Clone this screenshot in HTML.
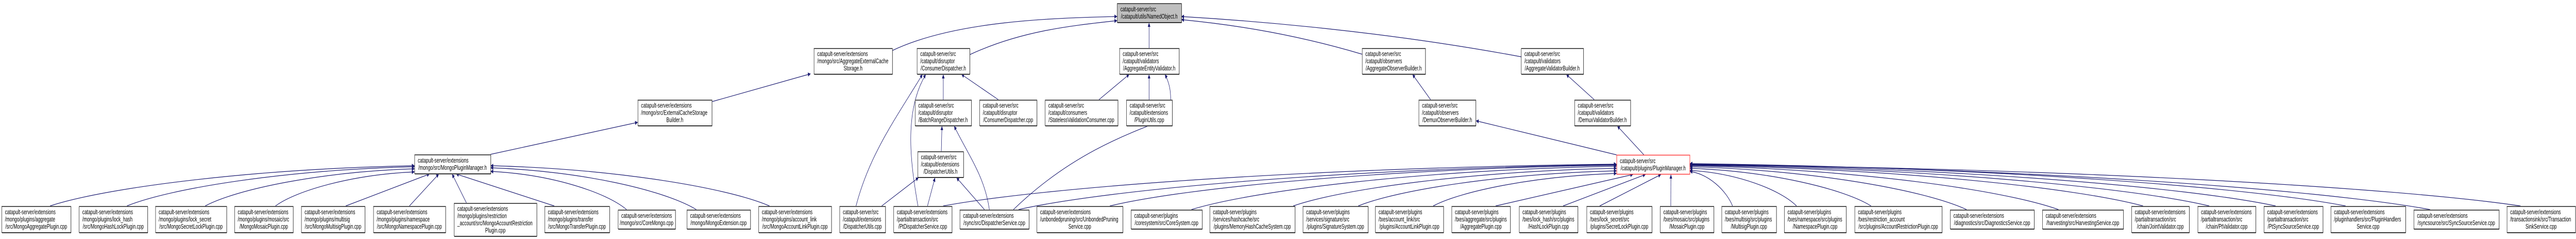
<!DOCTYPE html>
<html><head><meta charset="utf-8">
<style>
html,body{margin:0;padding:0;background:#fff;overflow:hidden;width:100%;}
svg{display:block;width:100vw;height:463px;}
text{font-family:"Liberation Sans",Arial,sans-serif;font-size:13.2px;fill:#000;}
</style></head>
<body>
<svg id="g" viewBox="0 0 7824 463" preserveAspectRatio="none" xmlns="http://www.w3.org/2000/svg">
<defs>
<marker id="ar" viewBox="0 0 10 10" refX="10" refY="5" markerWidth="11" markerHeight="8" orient="auto" markerUnits="userSpaceOnUse">
<path d="M0,0 L10,5 L0,10 z" fill="#191970"/>
</marker>
</defs>
<g id="edges" fill="none" stroke="#191970" stroke-width="1.2"></g>
<g id="nodes"></g>
</svg>
<script>
(function(){
var N={
MPM:[1259,299,231,37,["catapult-server/extensions","/mongo/src/MongoPluginManager.h"]],
PM:[4910,300,222,37,["catapult-server/src","/catapult/plugins/PluginManager.h"],"red"],
NO:[3393,6,195,37,["catapult-server/src","/catapult/utils/NamedObject.h"],"gray"],
AECS:[2472,93,238,50,["catapult-server/extensions","/mongo/src/AggregateExternalCache","Storage.h"]],
CDH:[2785,93,160,50,["catapult-server/src","/catapult/disruptor","/ConsumerDispatcher.h"]],
AEV:[3400,93,181,50,["catapult-server/src","/catapult/validators","/AggregateEntityValidator.h"]],
AOB:[4137,93,192,50,["catapult-server/src","/catapult/observers","/AggregateObserverBuilder.h"]],
AVB:[4620,93,189,50,["catapult-server/src","/catapult/validators","/AggregateValidatorBuilder.h"]],
ECSB:[1937,193,225,50,["catapult-server/extensions","/mongo/src/ExternalCacheStorage","Builder.h"]],
BRD:[2779,193,171,50,["catapult-server/src","/catapult/disruptor","/BatchRangeDispatcher.h"]],
CDC:[2975,193,174,50,["catapult-server/src","/catapult/disruptor","/ConsumerDispatcher.cpp"]],
SVC:[3174,193,221,50,["catapult-server/src","/catapult/consumers","/StatelessValidationConsumer.cpp"]],
PU:[3421,193,139,50,["catapult-server/src","/catapult/extensions","/PluginUtils.cpp"]],
DOB:[4309,193,173,50,["catapult-server/src","/catapult/observers","/DemuxObserverBuilder.h"]],
DVB:[4782,193,170,50,["catapult-server/src","/catapult/validators","/DemuxValidatorBuilder.h"]],
DUH:[2787,293,139,50,["catapult-server/src","/catapult/extensions","/DispatcherUtils.h"]],
b1:[5,399,210,51,["catapult-server/extensions","/mongo/plugins/aggregate","/src/MongoAggregatePlugin.cpp"]],
b2:[240,399,208,51,["catapult-server/extensions","/mongo/plugins/lock_hash","/src/MongoHashLockPlugin.cpp"]],
b3:[472,399,216,51,["catapult-server/extensions","/mongo/plugins/lock_secret","/src/MongoSecretLockPlugin.cpp"]],
b4:[712,399,178,51,["catapult-server/extensions","/mongo/plugins/mosaic/src","/MongoMosaicPlugin.cpp"]],
b5:[915,399,193,51,["catapult-server/extensions","/mongo/plugins/multisig","/src/MongoMultisigPlugin.cpp"]],
b6:[1134,399,219,51,["catapult-server/extensions","/mongo/plugins/namespace","/src/MongoNamespacePlugin.cpp"]],
b7:[1379,393,251,64,["catapult-server/extensions","/mongo/plugins/restriction","_account/src/MongoAccountRestriction","Plugin.cpp"]],
b8:[1654,399,197,51,["catapult-server/extensions","/mongo/plugins/transfer","/src/MongoTransferPlugin.cpp"]],
b9:[1877,406,174,37,["catapult-server/extensions","/mongo/src/CoreMongo.cpp"]],
b10:[2086,406,193,37,["catapult-server/extensions","/mongo/MongoExtension.cpp"]],
b11:[2304,399,221,51,["catapult-server/extensions","/mongo/plugins/account_link","/src/MongoAccountLinkPlugin.cpp"]],
b12:[2550,399,139,51,["catapult-server/src","/catapult/extensions","/DispatcherUtils.cpp"]],
b13:[2714,399,177,51,["catapult-server/extensions","/partialtransaction/src","/PtDispatcherService.cpp"]],
b14:[2915,406,210,37,["catapult-server/extensions","/sync/src/DispatcherService.cpp"]],
b15:[3149,399,261,51,["catapult-server/extensions","/unbondedpruning/src/UnbondedPruning","Service.cpp"]],
b16:[3435,406,216,37,["catapult-server/plugins","/coresystem/src/CoreSystem.cpp"]],
b17:[3674,399,259,51,["catapult-server/plugins","/services/hashcache/src","/plugins/MemoryHashCacheSystem.cpp"]],
b18:[3957,399,198,51,["catapult-server/plugins","/services/signature/src","/plugins/SignatureSystem.cpp"]],
b19:[4177,399,207,51,["catapult-server/plugins","/txes/account_link/src","/plugins/AccountLinkPlugin.cpp"]],
b20:[4409,399,178,51,["catapult-server/plugins","/txes/aggregate/src/plugins","/AggregatePlugin.cpp"]],
b21:[4614,399,178,51,["catapult-server/plugins","/txes/lock_hash/src/plugins","/HashLockPlugin.cpp"]],
b22:[4819,399,198,51,["catapult-server/plugins","/txes/lock_secret/src","/plugins/SecretLockPlugin.cpp"]],
b23:[5042,399,163,51,["catapult-server/plugins","/txes/mosaic/src/plugins","/MosaicPlugin.cpp"]],
b24:[5229,399,166,51,["catapult-server/plugins","/txes/multisig/src/plugins","/MultisigPlugin.cpp"]],
b25:[5419,399,188,51,["catapult-server/plugins","/txes/namespace/src/plugins","/NamespacePlugin.cpp"]],
b26:[5633,399,265,51,["catapult-server/plugins","/txes/restriction_account","/src/plugins/AccountRestrictionPlugin.cpp"]],
b27:[5923,406,255,37,["catapult-server/extensions","/diagnostics/src/DiagnosticsService.cpp"]],
b28:[6203,406,246,37,["catapult-server/extensions","/harvesting/src/HarvestingService.cpp"]],
b29:[6474,399,175,51,["catapult-server/extensions","/partialtransaction/src","/chain/JointValidator.cpp"]],
b30:[6675,399,176,51,["catapult-server/extensions","/partialtransaction/src","/chain/PtValidator.cpp"]],
b31:[6876,399,179,51,["catapult-server/extensions","/partialtransaction/src","/PtSyncSourceService.cpp"]],
b32:[7079,399,227,51,["catapult-server/extensions","/pluginhandlers/src/PluginHandlers","Service.cpp"]],
b33:[7331,406,259,37,["catapult-server/extensions","/syncsource/src/SyncSourceService.cpp"]],
b34:[7614,399,208,51,["catapult-server/extensions","/transactionsink/src/Transaction","SinkService.cpp"]]
};
var NS="http://www.w3.org/2000/svg";
function el(t,a,p){var e=document.createElementNS(NS,t);for(var k in a)e.setAttribute(k,a[k]);p.appendChild(e);return e;}
var gn=document.getElementById("nodes"),ge=document.getElementById("edges");
for(var k in N){var n=N[k],x=n[0],y=n[1],w=n[2],h=n[3],L=n[4];
 var fill=n[5]=="gray"?"#bfbfbf":"#fff",st=n[5]=="red"?"#ff3b3b":"#000";
 if(n[5]!="red"){el("line",{x1:x+1,y1:y+h+1,x2:x+w+1,y2:y+h+1,stroke:"#777","stroke-width":2},gn);
  el("line",{x1:x+w+1,y1:y+1,x2:x+w+1,y2:y+h+1,stroke:"#999","stroke-width":1},gn);}
 el("rect",{x:x+.5,y:y+.5,width:w,height:h,fill:fill,stroke:st,"stroke-width":n[5]=="red"?1.5:1},gn);
 if(n[5]!="red")el("line",{x1:x,y1:y+1,x2:x+w+1,y2:y+1,stroke:"#555","stroke-width":2},gn);
 var b0=y+(h-L.length*14)/2+11.5;
 for(var i=0;i<L.length;i++){var last=(i==L.length-1)&&L.length>1;
  var t=el("text",last?{x:x+w/2,y:b0+i*14,"text-anchor":"middle"}:{x:x+10,y:b0+i*14},gn);t.textContent=L[i];
 }
}
function P(d){el("path",{d:d,"marker-end":"url(#ar)"},ge);}
function line(a,b){P("M"+a[0]+","+a[1]+" L"+b[0]+","+b[1]);}
function curve(a,b,side){var dx=b[0]-a[0],dy=a[1]-b[1];var c1=[a[0]+dx*0.15,a[1]-dy*0.45];var c2;
 if(side=="L")c2=[b[0]-Math.abs(dx)*0.45,b[1]+dy*0.08];else if(side=="R")c2=[b[0]+Math.abs(dx)*0.45,b[1]+dy*0.08];else c2=[b[0]-dx*0.15,b[1]+dy*0.35];
 P("M"+a[0]+","+a[1]+" C"+c1[0]+","+c1[1]+" "+c2[0]+","+c2[1]+" "+b[0]+","+b[1]);}
line([1490,299],[1937,237]);
line([2162,197],[2462,143]);
P("M2710,98 C2900,40 3200,35 3393,32");
P("M2945,106 C3100,60 3250,50 3393,40");
line([3490,93],[3490,44]);
P("M4137,105 C3900,60 3700,45 3588,38");
P("M4620,110 C4200,60 3800,40 3588,32");
line([2865,193],[2865,144]);
line([3032,193],[2920,144]);
P("M2600,399 C2640,300 2720,230 2802,144");
P("M2788,399 C2770,330 2740,220 2812,144");
line([2859,293],[2861,244]);
P("M3005,406 C2990,340 2940,300 2898,244");
line([2678,399],[2790,344]);
line([2817,399],[2840,344]);
line([2990,406],[2905,344]);
line([3338,193],[3430,144]);
line([3490,193],[3490,144]);
P("M3078,406 C3250,300 3420,260 3545,230 C3560,200 3560,170 3538,144");
line([4345,193],[4290,144]);
line([4842,193],[4757,144]);
line([4910,300],[4483,234]);
line([4993,300],[4912,244]);
var mp=[["b1",1259,321,"L"],["b2",1259,323,"L"],["b3",1259,327,"L"],["b4",1259,333,"L"],["b5",1305,337,"B"],["b6",1333,337,"B"],["b7",1373,337,"B"],["b8",1385,337,"B"],["b9",1490,332,"R"],["b10",1490,325,"R"],["b11",1490,321,"R"]];
mp.forEach(function(m){var n=N[m[0]];var a=[n[0]+n[2]*0.7,n[1]];if(m[0]=="b9"||m[0]=="b10"||m[0]=="b11"||m[0]=="b8"||m[0]=="b7")a=[n[0]+n[2]*0.15,n[1]];if(m[0]=="b6")a=[n[0]+n[2]*0.5,n[1]];
 if(m[3]=="B")line(a,[m[1],m[2]]);else curve(a,[m[1],m[2]],m[3]);});
var pl=[["b13",4910,318],["b14",4910,319],["b15",4910,320],["b16",4910,322],["b17",4910,326],["b18",4910,331],["b19",4910,336]];
pl.forEach(function(m){var n=N[m[0]];var a=[n[0]+n[2]*(m[0]=="b17"?0.98:0.85),n[1]];curve(a,[m[1],m[2]],"L");});
var bt=[["b20",4960],["b21",4998],["b22",5045],["b23",5075]];
bt.forEach(function(m){var n=N[m[0]];var a=[n[0]+n[2]*0.75,n[1]];if(m[0]!="b20"&&m[0]!="b21")a=[n[0]+n[2]*0.2,n[1]];line(a,[m[1],338]);});
var pr=[["b24",5132,332],["b25",5132,330],["b26",5132,326],["b27",5132,323],["b28",5132,321],["b29",5132,320],["b30",5132,319],["b31",5132,318],["b32",5132,317],["b33",5132,318],["b34",5132,319]];
pr.forEach(function(m){var n=N[m[0]];var a=[n[0]+Math.min(n[2]*0.2,50),n[1]];curve(a,[m[1],m[2]],"R");});
})();
</script>
</body></html>
